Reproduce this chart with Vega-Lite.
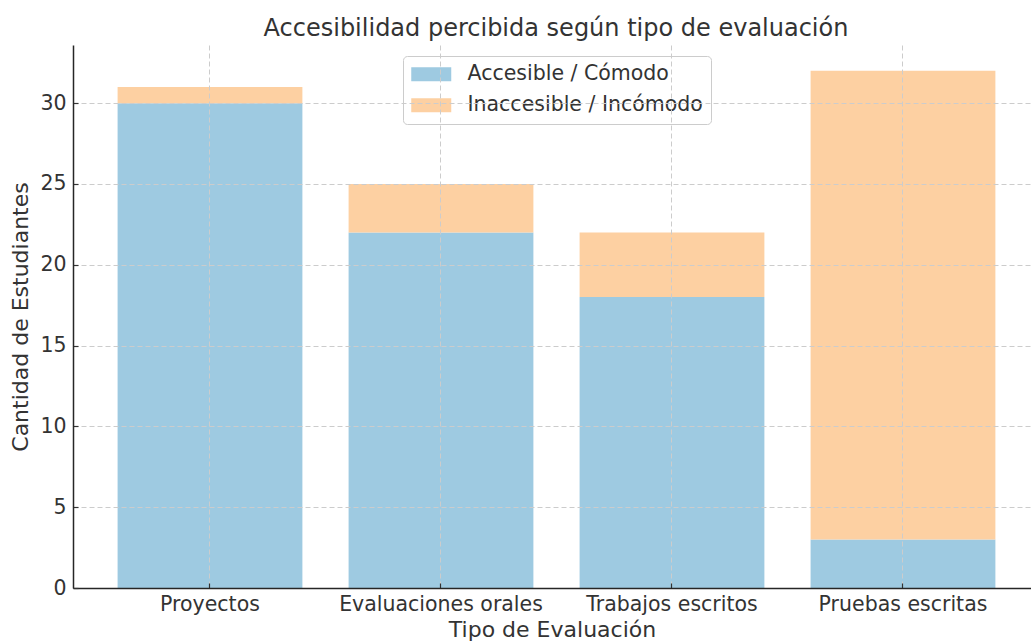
{
  "$schema": "https://vega.github.io/schema/vega-lite/v6.json",
  "width": 958,
  "height": 543,
  "autosize": {"type": "none"},
  "padding": {"left": 73, "top": 45, "right": 0, "bottom": 54},
  "background": "white",
  "title": {
    "text": "Accesibilidad percibida según tipo de evaluación",
    "font": "DejaVu Sans",
    "fontSize": 24,
    "fontWeight": "normal",
    "color": "#333333",
    "anchor": "middle",
    "offset": 4,
    "dx": 4
  },
  "config": {
    "view": {"stroke": null},
    "font": "DejaVu Sans"
  },
  "data": {
    "values": [
      {"tipo": "Proyectos", "categoria": "Accesible / Cómodo", "orden": 1, "valor": 30},
      {"tipo": "Proyectos", "categoria": "Inaccesible / Incómodo", "orden": 2, "valor": 1},
      {"tipo": "Evaluaciones orales", "categoria": "Accesible / Cómodo", "orden": 1, "valor": 22},
      {"tipo": "Evaluaciones orales", "categoria": "Inaccesible / Incómodo", "orden": 2, "valor": 3},
      {"tipo": "Trabajos escritos", "categoria": "Accesible / Cómodo", "orden": 1, "valor": 18},
      {"tipo": "Trabajos escritos", "categoria": "Inaccesible / Incómodo", "orden": 2, "valor": 4},
      {"tipo": "Pruebas escritas", "categoria": "Accesible / Cómodo", "orden": 1, "valor": 3},
      {"tipo": "Pruebas escritas", "categoria": "Inaccesible / Incómodo", "orden": 2, "valor": 29}
    ]
  },
  "mark": {"type": "bar"},
  "encoding": {
    "x": {
      "field": "tipo",
      "type": "nominal",
      "sort": ["Proyectos", "Evaluaciones orales", "Trabajos escritos", "Pruebas escritas"],
      "scale": {"paddingInner": 0.2, "paddingOuter": 0.1736, "align": 0.556},
      "axis": {
        "title": "Tipo de Evaluación",
        "titleFont": "DejaVu Sans",
        "titleFontSize": 22,
        "titleFontWeight": "normal",
        "titleColor": "#333333",
        "titlePadding": 5,
        "labelAngle": 0,
        "labelFont": "DejaVu Sans",
        "labelFontSize": 20.5,
        "labelColor": "#333333",
        "labelPadding": 11,
        "labelLimit": 400,
        "tickSize": -5,
        "tickColor": "#333333",
        "tickWidth": 1.2,
        "bandPosition": 0.5,
        "domainColor": "#262626",
        "domainWidth": 1.5,
        "grid": true,
        "gridColor": "#cccccc",
        "gridDash": [5, 3],
        "gridWidth": 1,
        "zindex": 1
      }
    },
    "y": {
      "field": "valor",
      "type": "quantitative",
      "stack": "zero",
      "scale": {"domain": [0, 33.6], "nice": false, "zero": true},
      "axis": {
        "title": "Cantidad de Estudiantes",
        "titleFont": "DejaVu Sans",
        "titleFontSize": 22,
        "titleFontWeight": "normal",
        "titleColor": "#333333",
        "titlePadding": 7,
        "values": [0, 5, 10, 15, 20, 25, 30],
        "labelFont": "DejaVu Sans",
        "labelFontSize": 20.5,
        "labelColor": "#333333",
        "labelPadding": 12,
        "tickSize": -5,
        "tickColor": "#333333",
        "tickWidth": 1.2,
        "domainColor": "#262626",
        "domainWidth": 1.5,
        "grid": true,
        "gridColor": "#cccccc",
        "gridDash": [5, 3],
        "gridWidth": 1,
        "zindex": 1
      }
    },
    "color": {
      "field": "categoria",
      "type": "nominal",
      "scale": {
        "domain": ["Accesible / Cómodo", "Inaccesible / Incómodo"],
        "range": ["#9ecae1", "#fdd0a2"]
      },
      "legend": {
        "title": null,
        "orient": "none",
        "legendX": 330,
        "legendY": 11,
        "symbolType": "M-2,-0.7L2,-0.7L2,0.7L-2,0.7Z",
        "symbolSize": 400,
        "symbolOffset": 10,
        "symbolStrokeWidth": 0,
        "symbolOpacity": 1,
        "labelFont": "DejaVu Sans",
        "labelFontSize": 20.5,
        "labelColor": "#333333",
        "labelOffset": 26,
        "labelLimit": 400,
        "rowPadding": 10,
        "padding": 8,
        "strokeColor": "#cccccc",
        "fillColor": "rgba(255,255,255,0.8)",
        "cornerRadius": 4
      }
    },
    "order": {"field": "orden", "type": "quantitative"}
  }
}
